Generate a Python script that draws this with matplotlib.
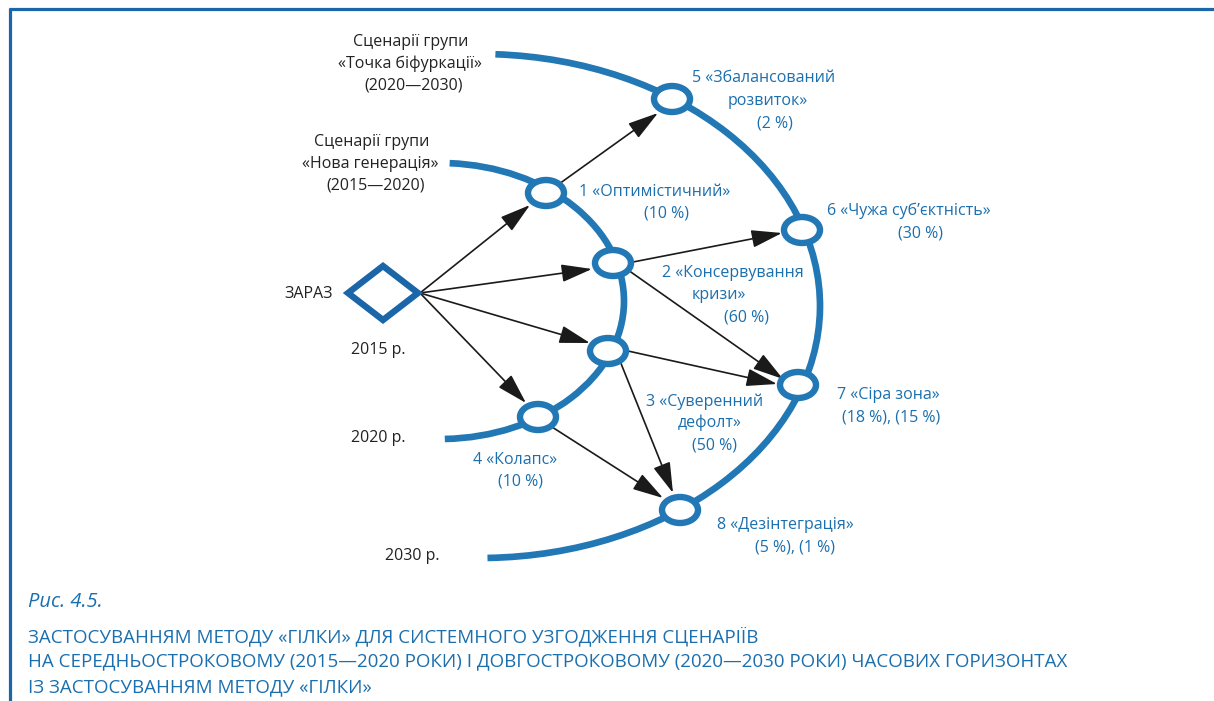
import matplotlib.pyplot as plt
from matplotlib.patches import Arc, Ellipse, Polygon, FancyArrowPatch

plt.rcParams['font.family'] = ['Open Sans', 'DejaVu Sans']

BLUE = '#2277b5'
DARK = '#1a66a8'
TXT_BLUE = '#1b6fae'

# scenario nodes (pixel positions on the picture)
nodes = {
    1: (546, 193), 2: (613, 263), 3: (608, 351), 4: (538, 417),
    5: (672, 99), 6: (802, 230), 7: (798, 385), 8: (680, 510),
}
start = (420, 293)  # right corner of the "ЗАРАЗ" diamond

# arrows: (from, to point)
arrows = [
    (start, (530, 205)), (start, (592, 269)), (start, (590, 343)), (start, (526, 403)),
    ((559, 184), (658, 113)),
    ((633, 262), (782, 233)),
    ((628, 270), (783, 379)),
    ((628, 351), (777, 384)),
    ((620, 361), (673, 493)),
    ((552, 427), (663, 498)),
]

# blue scenario labels: (text, x centre, y)
blue_labels = [
    ('1 «Оптимістичний»', 655, 192), ('(10 %)', 667, 213),
    ('5 «Збалансований', 764, 78), ('розвиток»', 768, 101), ('(2 %)', 775, 123),
    ('6 «Чужа суб’єктність»', 909, 211), ('(30 %)', 921, 233),
    ('2 «Консервування', 733, 273), ('кризи»', 719, 295), ('(60 %)', 747, 317),
    ('3 «Суверенний', 705, 402), ('дефолт»', 710, 423), ('(50 %)', 714, 445),
    ('7 «Сіра зона»', 888, 395), ('(18 %), (15 %)', 891, 417),
    ('8 «Дезінтеграція»', 785, 525), ('(5 %), (1 %)', 795, 547),
    ('4 «Колапс»', 515, 460), ('(10 %)', 521, 481),
]

black_labels = [
    ('Сценарії групи', 411, 42), ('«Точка біфуркації»', 410, 64), ('(2020—2030)', 414, 86),
    ('Сценарії групи', 372, 142), ('«Нова генерація»', 370, 164), ('(2015—2020)', 376, 186),
    ('2015 р.', 378, 350), ('2020 р.', 378, 438), ('2030 р.', 412, 556),
]

caption_lines = [
    'ЗАСТОСУВАННЯМ МЕТОДУ «ГІЛКИ» ДЛЯ СИСТЕМНОГО УЗГОДЖЕННЯ СЦЕНАРІЇВ',
    'НА СЕРЕДНЬОСТРОКОВОМУ (2015—2020 РОКИ) І ДОВГОСТРОКОВОМУ (2020—2030 РОКИ) ЧАСОВИХ ГОРИЗОНТАХ',
    'ІЗ ЗАСТОСУВАННЯМ МЕТОДУ «ГІЛКИ»',
]

fig = plt.figure(figsize=(12.14, 7.01), dpi=100)
ax = fig.add_axes([0, 0, 1, 1])
ax.set_xlim(0, 1214)
ax.set_ylim(701, 0)
ax.axis('off')

# frame (top and left)
ax.plot([9, 1214], [8.5, 8.5], color=DARK, lw=2.3, solid_capstyle='butt')
ax.plot([9.5, 9.5], [7.5, 701], color=DARK, lw=2.3, solid_capstyle='butt')

# horizon arcs
ax.add_patch(Arc((440, 301), 368, 276, theta1=-86, theta2=88, color=BLUE, lw=4.8))
ax.add_patch(Arc((480, 306), 680, 504, theta1=-86.5, theta2=88.3, color=BLUE, lw=4.8))

# arrows
for (x0, y0), (x1, y1) in arrows:
    ax.add_patch(FancyArrowPatch((x0, y0), (x1, y1),
                                 arrowstyle='-|>,head_length=1.9,head_width=0.55',
                                 mutation_scale=10, color='#1a1a1a', lw=1.2,
                                 shrinkA=0, shrinkB=0, zorder=3))

# scenario nodes
for k, (x, y) in nodes.items():
    ax.add_patch(Ellipse((x, y), 36, 26, facecolor='white', edgecolor=BLUE,
                         lw=4.6, zorder=4))

# diamond
ax.add_patch(Polygon([(348, 293), (383, 266), (418, 293), (383, 320)], closed=True,
                     facecolor='white', edgecolor=DARK, lw=4.6, joinstyle='miter',
                     zorder=4))
ax.text(333, 294, 'ЗАРАЗ', ha='right', va='center', fontsize=11.5, color='#222222')

for t, x, y in black_labels:
    ax.text(x, y, t, ha='center', va='center', fontsize=11.5, color='#222222')

for t, x, y in blue_labels:
    ax.text(x, y, t, ha='center', va='center', fontsize=11.5, color=TXT_BLUE)

ax.text(28, 602, 'Рис. 4.5.', ha='left', va='center', fontsize=14.5,
        style='italic', color=TXT_BLUE)
for i, line in enumerate(caption_lines):
    ax.text(28, 636 + i * 25.5, line, ha='left', va='center', fontsize=13.5,
            color=TXT_BLUE)

fig.savefig('out.png', dpi=100)
